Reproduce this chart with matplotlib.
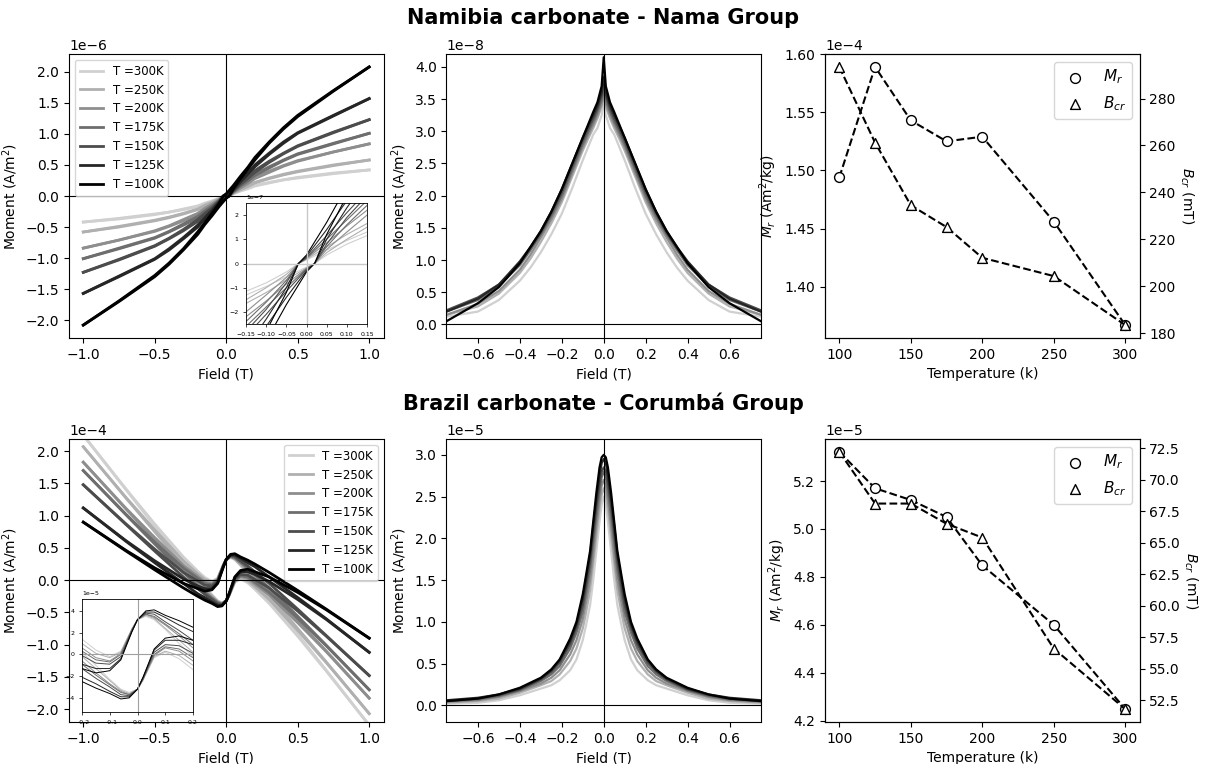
import matplotlib
matplotlib.use("Agg")
import matplotlib.pyplot as plt
from matplotlib.ticker import MultipleLocator
import numpy as np

# ---------------- data ----------------
temp_labels = ["T =300K", "T =250K", "T =200K", "T =175K", "T =150K", "T =125K", "T =100K"]
grays = ["#d0d0d0", "#b0b0b0", "#8e8e8e", "#6e6e6e", "#4c4c4c", "#262626", "#000000"]

# Namibia hysteresis, descending branch (units 1e-6 A/m2)
nama_field = [1.0, 0.75, 0.5, 0.4, 0.3, 0.2, 0.15, 0.1, 0.05, 0.0, -0.02, -0.05,
              -0.1, -0.15, -0.2, -0.3, -0.4, -0.5, -0.75, -1.0]
nama_loop = [
    [0.42, 0.37, 0.30, 0.26, 0.22, 0.17, 0.13, 0.095, 0.055, 0.015, 0.0, -0.035,
     -0.08, -0.115, -0.16, -0.21, -0.26, -0.29, -0.36, -0.42],
    [0.58, 0.50, 0.40, 0.35, 0.29, 0.22, 0.165, 0.12, 0.068, 0.018, 0.0, -0.045,
     -0.10, -0.15, -0.21, -0.28, -0.34, -0.39, -0.49, -0.58],
    [0.84, 0.71, 0.57, 0.49, 0.40, 0.30, 0.22, 0.155, 0.085, 0.02, 0.0, -0.058,
     -0.13, -0.20, -0.28, -0.38, -0.48, -0.56, -0.71, -0.84],
    [1.01, 0.85, 0.68, 0.58, 0.47, 0.35, 0.26, 0.18, 0.10, 0.022, 0.0, -0.07,
     -0.16, -0.24, -0.33, -0.45, -0.57, -0.67, -0.84, -1.01],
    [1.23, 1.03, 0.81, 0.69, 0.56, 0.41, 0.30, 0.21, 0.115, 0.025, 0.0, -0.08,
     -0.19, -0.28, -0.38, -0.54, -0.68, -0.80, -1.02, -1.23],
    [1.57, 1.30, 1.02, 0.87, 0.69, 0.50, 0.37, 0.26, 0.14, 0.03, 0.0, -0.10,
     -0.23, -0.35, -0.47, -0.67, -0.85, -1.01, -1.29, -1.57],
    [2.08, 1.70, 1.30, 1.10, 0.87, 0.62, 0.46, 0.32, 0.17, 0.035, 0.0, -0.12,
     -0.28, -0.43, -0.58, -0.85, -1.08, -1.28, -1.69, -2.08],
]

# Namibia peak curves, |field| grid (units 1e-8 A/m2)
nama_peak_field = [0.0, 0.01, 0.03, 0.05, 0.075, 0.1, 0.15, 0.2, 0.25, 0.3, 0.35, 0.4, 0.5, 0.6, 0.75]
nama_peak = [
    [3.45, 3.25, 3.05, 2.95, 2.75, 2.55, 2.12, 1.72, 1.40, 1.12, 0.88, 0.68, 0.38, 0.20, 0.12],
    [3.55, 3.38, 3.20, 3.05, 2.88, 2.70, 2.30, 1.90, 1.57, 1.28, 1.02, 0.80, 0.48, 0.28, 0.15],
    [3.60, 3.42, 3.25, 3.10, 2.93, 2.75, 2.35, 1.95, 1.63, 1.35, 1.08, 0.85, 0.52, 0.32, 0.15],
    [3.65, 3.48, 3.30, 3.15, 2.98, 2.80, 2.40, 2.00, 1.68, 1.40, 1.15, 0.92, 0.60, 0.38, 0.20],
    [3.75, 3.55, 3.35, 3.20, 3.03, 2.85, 2.45, 2.05, 1.72, 1.42, 1.18, 0.95, 0.62, 0.42, 0.22],
    [3.85, 3.60, 3.40, 3.25, 3.08, 2.90, 2.50, 2.10, 1.75, 1.45, 1.20, 0.98, 0.62, 0.40, 0.20],
    [4.15, 3.70, 3.45, 3.30, 3.10, 2.90, 2.50, 2.10, 1.75, 1.45, 1.20, 0.95, 0.58, 0.33, 0.05],
]

# Brazil hysteresis, descending branch (units 1e-5 A/m2)
brazil_field = [1.0, 0.7, 0.5, 0.3, 0.2, 0.15, 0.1, 0.06, 0.03, 0.0, -0.02, -0.04, -0.06,
                -0.1, -0.15, -0.2, -0.3, -0.5, -0.7, -1.0]
brazil_loop = [
    [-22.5, -14.0, -8.4, -2.9, -0.2, 1.0, 2.3, 3.2, 3.5, 3.2, 2.4, 1.3, 0.3, -0.2, 0.4, 1.4, 3.6, 8.7, 14.1, 22.5],
    [-20.7, -12.7, -7.5, -2.3, 0.2, 1.3, 2.4, 3.3, 3.6, 3.2, 2.3, 1.3, 0.2, -0.3, 0.1, 1.0, 3.0, 7.8, 12.8, 20.7],
    [-18.3, -11.0, -6.3, -1.6, 0.6, 1.7, 2.7, 3.4, 3.7, 3.2, 2.3, 1.2, 0.1, -0.6, -0.3, 0.6, 2.3, 6.6, 11.1, 18.3],
    [-17.0, -10.1, -5.6, -1.2, 0.9, 1.9, 2.8, 3.5, 3.7, 3.2, 2.3, 1.1, 0.0, -0.7, -0.5, 0.3, 1.9, 5.9, 10.2, 17.0],
    [-14.8, -8.6, -4.5, -0.5, 1.3, 2.2, 3.0, 3.7, 3.8, 3.2, 2.2, 1.0, -0.2, -0.9, -0.8, -0.1, 1.2, 4.8, 8.7, 14.8],
    [-11.2, -6.0, -2.7, 0.5, 2.1, 2.7, 3.4, 3.9, 3.9, 3.2, 2.1, 0.9, -0.4, -1.3, -1.3, -0.9, 0.2, 3.0, 6.1, 11.2],
    [-9.0, -4.5, -1.6, 1.2, 2.5, 3.1, 3.6, 4.1, 4.0, 3.2, 2.1, 0.8, -0.5, -1.5, -1.7, -1.3, -0.5, 1.9, 4.6, 9.0],
]

# Brazil peak curves, |field| grid (units 1e-5 A/m2)
brazil_peak_field = [0.0, 0.01, 0.02, 0.035, 0.05, 0.065, 0.085, 0.1, 0.13, 0.16, 0.21,
                     0.25, 0.3, 0.4, 0.5, 0.6, 0.75]
brazil_peak = [
    [2.50, 2.40, 2.20, 1.85, 1.50, 1.20, 0.95, 0.78, 0.55, 0.42, 0.30, 0.24, 0.20, 0.12, 0.06, 0.03, 0.02],
    [2.60, 2.52, 2.35, 2.03, 1.70, 1.38, 1.10, 0.92, 0.68, 0.53, 0.37, 0.29, 0.24, 0.15, 0.08, 0.05, 0.03],
    [2.70, 2.63, 2.45, 2.15, 1.80, 1.50, 1.22, 1.03, 0.78, 0.61, 0.42, 0.33, 0.26, 0.17, 0.10, 0.06, 0.04],
    [2.80, 2.73, 2.55, 2.27, 1.95, 1.62, 1.33, 1.12, 0.87, 0.68, 0.47, 0.37, 0.29, 0.18, 0.11, 0.07, 0.05],
    [2.85, 2.80, 2.65, 2.38, 2.05, 1.72, 1.42, 1.20, 0.93, 0.73, 0.51, 0.40, 0.31, 0.19, 0.12, 0.08, 0.05],
    [2.95, 2.90, 2.75, 2.47, 2.15, 1.80, 1.50, 1.28, 0.97, 0.77, 0.54, 0.42, 0.32, 0.20, 0.13, 0.09, 0.06],
    [3.00, 2.97, 2.85, 2.55, 2.20, 1.85, 1.55, 1.33, 1.00, 0.80, 0.55, 0.43, 0.33, 0.21, 0.13, 0.08, 0.05],
]

# Remanence vs temperature
temperature = [100, 125, 150, 175, 200, 250, 300]
nama_mr = [1.494, 1.589, 1.543, 1.525, 1.529, 1.456, 1.367]      # 1e-4 Am2/kg
nama_bcr = [293.5, 261.2, 234.5, 225.2, 212.1, 204.3, 183.4]     # mT
brazil_mr = [5.322, 5.170, 5.121, 5.050, 4.848, 4.600, 4.248]    # 1e-5 Am2/kg
brazil_bcr = [72.2, 68.1, 68.1, 66.5, 65.4, 56.6, 51.8]          # mT

moment_label = "Moment (A/m$^2$)"


def sci_y(ax):
    ax.ticklabel_format(axis="y", style="sci", scilimits=(0, 0))


def draw_loop(ax, field, loops, scale, lw, label=True):
    f = np.array(field)
    for i in range(len(loops)):
        m = np.array(loops[i]) * scale
        ax.plot(f, m, color=grays[i], lw=lw, label=temp_labels[i] if label else None)
        ax.plot(-f, -m, color=grays[i], lw=lw)


def draw_peak(ax, field, peaks, scale):
    g = np.array(field)
    x = np.concatenate([-g[::-1], g[1:]])
    for i in range(len(peaks)):
        p = np.array(peaks[i]) * scale
        y = np.concatenate([p[::-1], p[1:]])
        ax.plot(x, y, color=grays[i], lw=1.6)
    ax.axhline(0, color="k", lw=0.8)
    ax.axvline(0, color="k", lw=0.8)
    ax.set_xlim(-0.75, 0.75)
    ax.xaxis.set_major_locator(MultipleLocator(0.2))
    ax.yaxis.set_major_locator(MultipleLocator(0.5 * scale))
    sci_y(ax)
    ax.set_xlabel("Field (T)")
    ax.set_ylabel(moment_label)


def draw_remanence(ax, mr, bcr, scale):
    t = np.array(temperature)
    ax.plot(t, np.array(mr) * scale, "k--", lw=1.5, zorder=2)
    h1 = ax.scatter(t, np.array(mr) * scale, marker="o", s=50, facecolors="white",
                    edgecolors="k", zorder=3, label="$M_r$")
    sci_y(ax)
    ax.set_xlabel("Temperature (k)")
    ax.set_ylabel("$M_r$ (Am$^2$/kg)")
    ax2 = ax.twinx()
    ax2.plot(t, bcr, "k--", lw=1.5, zorder=2)
    h2 = ax2.scatter(t, bcr, marker="^", s=50, facecolors="white",
                     edgecolors="k", zorder=3, label="$B_{cr}$")
    ax2.set_ylabel("$B_{cr}$ (mT)", rotation=270, labelpad=14)
    ax2.legend(handles=[h1, h2], loc="upper right", fontsize=11)


def inset_style(ax):
    ax.tick_params(labelsize=4.5, length=2, width=0.5)
    ax.yaxis.get_offset_text().set_fontsize(4.5)
    for s in ax.spines.values():
        s.set_linewidth(0.6)


fig = plt.figure(figsize=(12.06, 7.64), dpi=100)

lefts = [0.0572, 0.3702, 0.6841]
w = 0.2608
top_b, top_h = 0.5576, 0.3717
bot_b, bot_h = 0.0550, 0.3704

fig.text(0.5, 0.976, "Namibia carbonate - Nama Group", ha="center", va="center",
         fontsize=15, fontweight="bold")
fig.text(0.5, 0.4725, "Brazil carbonate - Corumbá Group", ha="center", va="center",
         fontsize=15, fontweight="bold")

# ---- Namibia row ----
ax = fig.add_axes([lefts[0], top_b, w, top_h])
draw_loop(ax, nama_field, nama_loop, 1e-6, 2.0)
ax.axhline(0, color="k", lw=0.8)
ax.axvline(0, color="k", lw=0.8)
ax.yaxis.set_major_locator(MultipleLocator(0.5e-6))
sci_y(ax)
ax.set_xlabel("Field (T)")
ax.set_ylabel(moment_label)
ax.legend(loc="upper left", fontsize=8.5)

axi = fig.add_axes([246 / 1206, 1 - 324 / 764, 121 / 1206, 121 / 764])
draw_loop(axi, nama_field, nama_loop, 1e-6, 0.8, label=False)
axi.axhline(0, color="#c8c8c8", lw=1.0)
axi.axvline(0, color="#c8c8c8", lw=1.0)
axi.set_xlim(-0.15, 0.15)
axi.set_ylim(-2.5e-7, 2.5e-7)
axi.set_xticks([-0.15, -0.10, -0.05, 0.0, 0.05, 0.10, 0.15])
sci_y(axi)
inset_style(axi)

ax = fig.add_axes([lefts[1], top_b, w, top_h])
draw_peak(ax, nama_peak_field, nama_peak, 1e-8)
ax.set_ylim(-0.21e-8, 4.2e-8)

ax = fig.add_axes([lefts[2], top_b, w, top_h])
draw_remanence(ax, nama_mr, nama_bcr, 1e-4)

# ---- Brazil row ----
ax = fig.add_axes([lefts[0], bot_b, w, bot_h])
draw_loop(ax, brazil_field, brazil_loop, 1e-5, 2.0)
ax.axhline(0, color="k", lw=0.8)
ax.axvline(0, color="k", lw=0.8)
ax.set_ylim(-2.2e-4, 2.19e-4)
ax.yaxis.set_major_locator(MultipleLocator(0.5e-4))
sci_y(ax)
ax.set_xlabel("Field (T)")
ax.set_ylabel(moment_label)
ax.legend(loc="upper right", fontsize=8.5)

axi = fig.add_axes([82 / 1206, 1 - 712 / 764, 111 / 1206, 113 / 764])
draw_loop(axi, brazil_field, brazil_loop, 1e-5, 0.7, label=False)
axi.axhline(0, color="#a0a0a0", lw=0.8)
axi.axvline(0, color="#a0a0a0", lw=0.8)
axi.set_xlim(-0.2, 0.2)
axi.set_ylim(-5.3e-5, 5.1e-5)
axi.set_yticks([-4e-5, -2e-5, 0, 2e-5, 4e-5])
sci_y(axi)
inset_style(axi)

ax = fig.add_axes([lefts[1], bot_b, w, bot_h])
draw_peak(ax, brazil_peak_field, brazil_peak, 1e-5)
ax.set_ylim(-0.2e-5, 3.19e-5)

ax = fig.add_axes([lefts[2], bot_b, w, bot_h])
draw_remanence(ax, brazil_mr, brazil_bcr, 1e-5)

fig.savefig("out.png", dpi=100)
